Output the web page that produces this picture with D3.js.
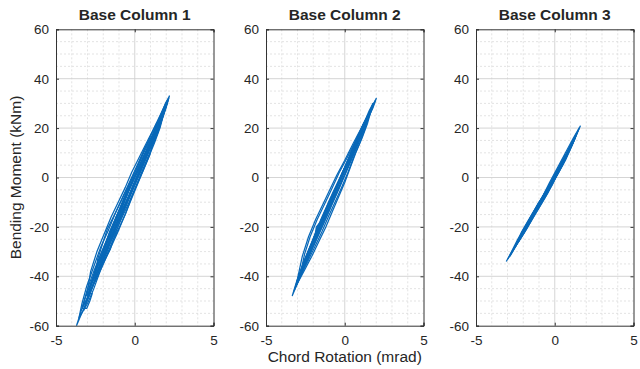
<!DOCTYPE html>
<html>
<head>
<meta charset="utf-8">
<script src="https://cdn.jsdelivr.net/npm/d3@7"></script>
<style>
  body { margin: 0; background: #fff; }
  svg { display: block; }
  text { font-family: Arial, "Liberation Sans", Helvetica, sans-serif; fill: #262626; }
</style>
</head>
<body>
<div id="chart"></div>
<script>
const panelTitles = ["Base Column 1", "Base Column 2", "Base Column 3"];
const xTicks = [-5, 0, 5];
const yTicks = [-60, -40, -20, 0, 20, 40, 60];
const xMinorTicks = [-4, -3, -2, -1, 1, 2, 3, 4];
const yMinorTicks = [-55, -50, -45, -35, -30, -25, -15, -10, -5, 5, 10, 15, 25, 30, 35, 45, 50, 55];
const xLabel = "Chord Rotation (mrad)";
const yLabel = "Bending Moment (kNm)";

// each loop: [rotation (mrad), moment (kNm)]
const col1Loops = [
  [[-0.95,-15],[-0.5,-10],[-0.15,-5],[0.18,0],[0.5,5],[0.8,10],[0.88,12],[0.6,9],[0.25,4],[-0.12,-1],[-0.5,-6],[-0.8,-11],[-0.95,-15]],
  [[-1.6,-25],[-1.12,-19],[-0.78,-14],[-0.42,-9],[-0.08,-4],[0.25,1],[0.58,6],[0.9,11],[1.2,16],[1.34,18],[1.05,14],[0.68,9],[0.3,4],[-0.08,-1],[-0.45,-6],[-0.82,-11],[-1.18,-16],[-1.45,-21],[-1.6,-25]],
  [[-2.2,-35],[-1.82,-30],[-1.44,-25],[-1.08,-20],[-0.72,-15],[-0.36,-10],[-0.02,-5],[0.3,0],[0.62,5],[0.95,10],[1.27,15],[1.57,20],[1.74,24],[1.45,20],[1.05,14],[0.68,9],[0.3,4],[-0.1,-1],[-0.5,-7],[-0.88,-12],[-1.25,-17],[-1.6,-22],[-1.92,-28],[-2.2,-35]],
  [[-2.85,-45],[-2.45,-39],[-2.05,-33],[-1.65,-27],[-1.25,-21],[-0.85,-15],[-0.45,-9],[-0.05,-3],[0.35,3],[0.75,9],[1.15,15],[1.55,21],[1.88,27],[1.95,28],[1.65,24],[1.25,18],[0.8,12],[0.35,5],[-0.1,-1],[-0.55,-7],[-0.95,-13],[-1.35,-19],[-1.75,-25],[-2.15,-31],[-2.5,-37],[-2.85,-45]],
  [[-3.35,-53],[-2.95,-48],[-2.55,-42],[-2.15,-36],[-1.75,-30],[-1.35,-23],[-0.95,-17],[-0.55,-11],[-0.1,-4],[0.35,2],[0.8,9],[1.25,16],[1.65,22],[1.98,28],[2.2,33],[1.95,30],[1.55,24],[1.1,17],[0.65,11],[0.15,4],[-0.35,-3],[-0.8,-10],[-1.25,-17],[-1.7,-24],[-2.15,-31],[-2.6,-38],[-3.0,-45],[-3.35,-53]],
  [[-3.7,-60],[-3.3,-54],[-2.9,-48],[-2.5,-41],[-2.1,-34],[-1.7,-28],[-1.28,-21],[-0.85,-14],[-0.42,-8],[0.0,-2],[0.45,5],[0.9,11],[1.35,18],[1.75,24],[2.1,31],[1.85,28],[1.4,21],[0.95,14],[0.45,7],[-0.05,0],[-0.5,-7],[-0.95,-14],[-1.4,-21],[-1.85,-28],[-2.3,-35],[-2.75,-42],[-3.15,-49],[-3.45,-55],[-3.7,-60]],
  [[-3.05,-50],[-2.65,-44],[-2.25,-37],[-1.85,-31],[-1.45,-24],[-1.05,-18],[-0.62,-11],[-0.2,-5],[0.25,2],[0.7,8],[1.15,15],[1.55,21],[1.9,27],[2.05,30],[1.75,26],[1.3,19],[0.85,12],[0.38,6],[-0.12,-1],[-0.6,-8],[-1.05,-15],[-1.5,-22],[-1.95,-29],[-2.4,-36],[-2.8,-43],[-3.05,-50]],
  [[-2.55,-41],[-2.15,-35],[-1.75,-28],[-1.35,-22],[-0.95,-16],[-0.52,-10],[-0.1,-3],[0.35,3],[0.8,10],[1.2,16],[1.55,22],[1.85,27],[1.55,23],[1.1,16],[0.65,9],[0.2,3],[-0.28,-4],[-0.72,-11],[-1.15,-18],[-1.6,-25],[-2.05,-32],[-2.55,-41]],
  [[-3.25,-54],[-2.85,-47],[-2.45,-40],[-2.05,-34],[-1.62,-27],[-1.2,-20],[-0.78,-13],[-0.35,-7],[0.1,0],[0.55,7],[1.0,13],[1.45,20],[1.85,26],[2.15,32],[1.9,29],[1.48,22],[1.02,15],[0.55,8],[0.05,1],[-0.42,-6],[-0.9,-13],[-1.35,-20],[-1.82,-27],[-2.28,-35],[-2.75,-43],[-3.25,-54]],
  [[-3.05,-48],[-2.5,-42],[-2.0,-35],[-1.5,-28],[-1.0,-21],[-0.55,-14],[-0.1,-7],[0.35,0],[0.8,7],[1.25,14],[1.6,20],[1.85,26],[1.4,22],[0.9,16],[0.35,9],[-0.2,2],[-0.6,-4],[-1.05,-10],[-1.5,-16],[-1.95,-23],[-2.4,-30],[-2.8,-38],[-3.05,-48]],
  [[-2.5,-40],[-1.95,-34],[-1.55,-29],[-1.35,-25],[-0.9,-19],[-0.6,-15],[-0.2,-8],[0.2,-2],[0.55,3],[0.95,9],[1.1,13],[1.45,18],[1.6,22],[1.2,18],[0.65,12],[0.2,5],[-0.3,-2],[-0.75,-8],[-1.2,-14],[-1.75,-21],[-2.1,-28],[-2.35,-33],[-2.5,-40]],
  [[-3.55,-57],[-3.0,-51],[-2.6,-45],[-2.2,-38],[-1.75,-31],[-1.3,-24],[-0.9,-17],[-0.45,-10],[-0.05,-4],[0.4,3],[0.85,10],[1.3,17],[1.7,24],[2.05,31],[1.75,27],[1.3,21],[0.8,14],[0.3,7],[-0.2,0],[-0.7,-7],[-1.2,-14],[-1.65,-21],[-2.15,-28],[-2.6,-36],[-3.05,-44],[-3.35,-51],[-3.55,-57]],
  [[-3.35,-53],[-3.05,-53],[-2.85,-50],[-2.7,-47],[-2.85,-47],[-3.1,-50],[-3.35,-53]]
];

const col2Loops = [
  [[-1.35,-15],[-0.95,-10],[-0.6,-5],[-0.22,0],[0.12,5],[0.42,10],[0.2,6],[-0.15,1],[-0.55,-4],[-0.95,-9],[-1.35,-15]],
  [[-2.0,-25],[-1.55,-20],[-1.18,-15],[-0.82,-10],[-0.45,-5],[-0.1,0],[0.25,5],[0.55,10],[0.85,15],[0.98,18],[0.7,14],[0.35,9],[0.0,4],[-0.38,-1],[-0.75,-6],[-1.1,-11],[-1.45,-16],[-1.78,-21],[-2.0,-25]],
  [[-2.6,-35],[-2.2,-29],[-1.8,-23],[-1.4,-17],[-1.0,-11],[-0.62,-6],[-0.25,0],[0.12,5],[0.5,11],[0.88,17],[1.2,21],[1.45,25],[1.2,22],[0.85,17],[0.45,11],[0.05,5],[-0.35,-1],[-0.75,-7],[-1.15,-13],[-1.55,-19],[-1.95,-25],[-2.3,-30],[-2.6,-35]],
  [[-3.0,-42],[-2.6,-36],[-2.2,-30],[-1.78,-24],[-1.38,-18],[-0.98,-12],[-0.58,-6],[-0.18,0],[0.2,6],[0.6,12],[1.0,18],[1.38,23],[1.8,30],[1.55,27],[1.15,21],[0.72,15],[0.28,8],[-0.15,2],[-0.58,-5],[-1.0,-11],[-1.42,-17],[-1.85,-23],[-2.25,-29],[-2.65,-36],[-3.0,-42]],
  [[-3.34,-48],[-2.95,-42],[-2.55,-36],[-2.15,-30],[-1.72,-24],[-1.3,-18],[-0.9,-12],[-0.48,-6],[-0.08,0],[0.32,6],[0.72,12],[1.1,18],[1.48,24],[1.78,28],[2.0,32],[1.75,29],[1.35,23],[0.9,16],[0.45,9],[0.0,3],[-0.45,-3],[-0.88,-9],[-1.32,-15],[-1.75,-21],[-2.2,-28],[-2.65,-35],[-3.05,-42],[-3.34,-48]],
  [[-3.22,-46],[-2.82,-40],[-2.42,-34],[-2.0,-28],[-1.58,-22],[-1.16,-16],[-0.75,-10],[-0.33,-4],[0.08,2],[0.48,8],[0.88,14],[1.28,20],[1.62,26],[1.93,31],[1.65,27],[1.22,21],[0.78,14],[0.32,7],[-0.12,1],[-0.58,-5],[-1.02,-11],[-1.48,-17],[-1.92,-24],[-2.38,-31],[-2.82,-38],[-3.22,-46]],
  [[-3.1,-44],[-2.7,-38],[-2.3,-32],[-1.95,-26],[-1.8,-20],[-1.42,-17],[-1.0,-11],[-0.6,-5],[-0.2,1],[0.2,7],[0.62,13],[1.05,19],[1.45,24],[1.7,28],[1.42,24],[1.0,18],[0.55,11],[0.1,5],[-0.35,-2],[-0.8,-8],[-1.25,-14],[-1.7,-20],[-2.15,-27],[-2.6,-34],[-3.1,-44]],
  [[-2.75,-38],[-2.35,-32],[-1.95,-26],[-1.55,-20],[-1.15,-14],[-0.75,-8],[-0.35,-2],[0.05,4],[0.45,10],[0.85,16],[1.2,22],[0.95,18],[0.55,12],[0.12,5],[-0.32,-1],[-0.75,-8],[-1.2,-15],[-1.65,-22],[-2.1,-29],[-2.75,-38]],
  [[-3.1,-44],[-2.6,-38],[-2.1,-32],[-1.65,-26],[-1.2,-20],[-0.8,-14],[-0.4,-8],[0.0,-2],[0.35,4],[0.7,10],[1.1,16],[1.45,22],[1.8,30],[1.55,26],[1.05,20],[0.55,14],[0.0,7],[-0.5,1],[-0.95,-5],[-1.4,-11],[-1.85,-17],[-2.3,-24],[-2.7,-32],[-3.1,-44]],
  [[-2.85,-40],[-2.35,-34],[-1.9,-28],[-1.45,-22],[-1.05,-16],[-0.62,-10],[-0.2,-4],[0.2,2],[0.55,8],[0.95,14],[1.3,20],[1.55,26],[1.2,21],[0.7,15],[0.15,8],[-0.35,2],[-0.85,-5],[-1.3,-11],[-1.75,-17],[-2.2,-24],[-2.55,-31],[-2.85,-40]]
];

const col3Loops = [
  [[-1.3,-14],[-0.92,-10],[-0.45,-5],[-0.02,0],[0.38,5],[0.65,9],[0.45,6],[0.05,1],[-0.4,-4],[-0.85,-9],[-1.3,-14]],
  [[-2.0,-22],[-1.6,-18],[-1.15,-13],[-0.7,-8],[-0.25,-3],[0.2,2],[0.62,7],[1.05,13],[0.85,10],[0.4,5],[-0.05,0],[-0.5,-5],[-0.95,-10],[-1.45,-16],[-2.0,-22]],
  [[-2.5,-28],[-2.05,-23],[-1.6,-18],[-1.12,-13],[-0.65,-8],[-0.2,-3],[0.25,2],[0.7,8],[1.15,14],[1.4,18],[1.15,15],[0.7,9],[0.25,3],[-0.22,-2],[-0.7,-7],[-1.18,-12],[-1.65,-17],[-2.1,-22],[-2.5,-28]],
  [[-3.08,-34],[-2.6,-29],[-2.12,-24],[-1.65,-19],[-1.15,-13],[-0.68,-8],[-0.2,-3],[0.25,2],[0.68,7],[1.1,13],[1.42,18],[1.62,20.8],[1.35,17],[0.92,12],[0.45,6],[-0.02,1],[-0.5,-5],[-0.98,-10],[-1.45,-15],[-1.95,-21],[-2.45,-27],[-3.08,-34]],
  [[-2.85,-32],[-2.4,-27],[-1.92,-22],[-1.45,-16],[-0.98,-11],[-0.5,-6],[-0.05,0],[0.42,5],[0.88,11],[1.3,16],[1.52,19.5],[1.25,16],[0.8,10],[0.32,4],[-0.15,-1],[-0.62,-6],[-1.1,-12],[-1.6,-17],[-2.1,-23],[-2.85,-32]],
  [[-2.98,-33],[-2.5,-28],[-2.0,-23],[-1.53,-18],[-1.07,-13],[-0.6,-8],[-0.16,-3],[0.22,2],[0.7,8],[1.16,14],[1.55,20],[1.18,16],[0.68,10],[0.18,4],[-0.33,-2],[-0.8,-8],[-1.33,-14],[-1.8,-19],[-2.35,-25],[-2.98,-33]],
  [[-2.3,-26],[-1.8,-21],[-1.35,-16],[-0.88,-11],[-0.42,-6],[0.05,0],[0.5,5],[0.95,11],[1.3,16],[0.95,12],[0.4,6],[-0.1,0],[-0.6,-6],[-1.1,-11],[-1.6,-17],[-2.3,-26]]
];

const panelLoops = [col1Loops, col2Loops, col3Loops];

const width = 640, height = 369;
const panelLeft = [56, 266, 476];
const plotW = 157.5, plotTop = 29.3, plotH = 296.4;

const svg = d3.select("#chart").append("svg")
  .attr("width", width)
  .attr("height", height);

svg.append("rect").attr("width", width).attr("height", height).attr("fill", "#fff");

const fmt = d => String(d);

panelTitles.forEach((title, i) => {
  const g = svg.append("g").attr("transform", `translate(${panelLeft[i]},${plotTop})`);

  const x = d3.scaleLinear().domain([-5, 5]).range([0, plotW]);
  const y = d3.scaleLinear().domain([-60, 60]).range([plotH, 0]);

  // minor grid (dotted)
  g.append("g").selectAll("line").data(xMinorTicks).join("line")
    .attr("x1", d => x(d)).attr("x2", d => x(d))
    .attr("y1", 0).attr("y2", plotH)
    .attr("stroke", "#dcdcdc").attr("stroke-width", 0.8)
    .attr("stroke-dasharray", "2,2");
  g.append("g").selectAll("line").data(yMinorTicks).join("line")
    .attr("x1", 0).attr("x2", plotW)
    .attr("y1", d => y(d)).attr("y2", d => y(d))
    .attr("stroke", "#dcdcdc").attr("stroke-width", 0.8)
    .attr("stroke-dasharray", "2,2");

  // major grid
  g.append("g").selectAll("line").data(xTicks.slice(1, -1)).join("line")
    .attr("x1", d => x(d)).attr("x2", d => x(d))
    .attr("y1", 0).attr("y2", plotH)
    .attr("stroke", "#d0d0d0").attr("stroke-width", 0.9);
  g.append("g").selectAll("line").data(yTicks.slice(1, -1)).join("line")
    .attr("x1", 0).attr("x2", plotW)
    .attr("y1", d => y(d)).attr("y2", d => y(d))
    .attr("stroke", "#d0d0d0").attr("stroke-width", 0.9);

  // hysteresis loops
  const line = d3.line().x(d => x(d[0])).y(d => y(d[1]));
  g.append("g").selectAll("path").data(panelLoops[i]).join("path")
    .attr("d", line)
    .attr("fill", "none")
    .attr("stroke", "#0868B8")
    .attr("stroke-width", 1.25)
    .attr("stroke-linejoin", "round");

  // axes, ticks pointing inward
  g.append("g").attr("transform", `translate(0,${plotH})`)
    .call(d3.axisBottom(x).tickValues(xTicks).tickSize(-3).tickPadding(10).tickFormat(fmt));
  g.append("g")
    .call(d3.axisLeft(y).tickValues(yTicks).tickSize(-3).tickPadding(7).tickFormat(fmt));
  g.append("g")
    .call(d3.axisTop(x).tickValues(xTicks).tickSize(-3).tickFormat(""));
  g.append("g").attr("transform", `translate(${plotW},0)`)
    .call(d3.axisRight(y).tickValues(yTicks).tickSize(-3).tickFormat(""));

  g.selectAll(".domain").attr("stroke", "#333");
  g.selectAll(".tick line").attr("stroke", "#333");
  g.selectAll(".tick text").attr("fill", "#333").style("font-size", "13.5px")
    .style("font-family", "Arial, 'Liberation Sans', sans-serif");

  g.append("text")
    .attr("x", plotW / 2)
    .attr("y", -9)
    .attr("text-anchor", "middle")
    .style("font-size", "15.5px")
    .style("font-weight", "bold")
    .attr("fill", "#111")
    .text(title);
});

svg.append("text")
  .attr("transform", `translate(21,${plotTop + plotH / 2}) rotate(-90)`)
  .attr("text-anchor", "middle")
  .style("font-size", "15.5px")
  .attr("fill", "#333")
  .text(yLabel);

svg.append("text")
  .attr("x", panelLeft[1] + plotW / 2)
  .attr("y", 362)
  .attr("text-anchor", "middle")
  .style("font-size", "15.5px")
  .attr("fill", "#333")
  .text(xLabel);
</script>
</body>
</html>
